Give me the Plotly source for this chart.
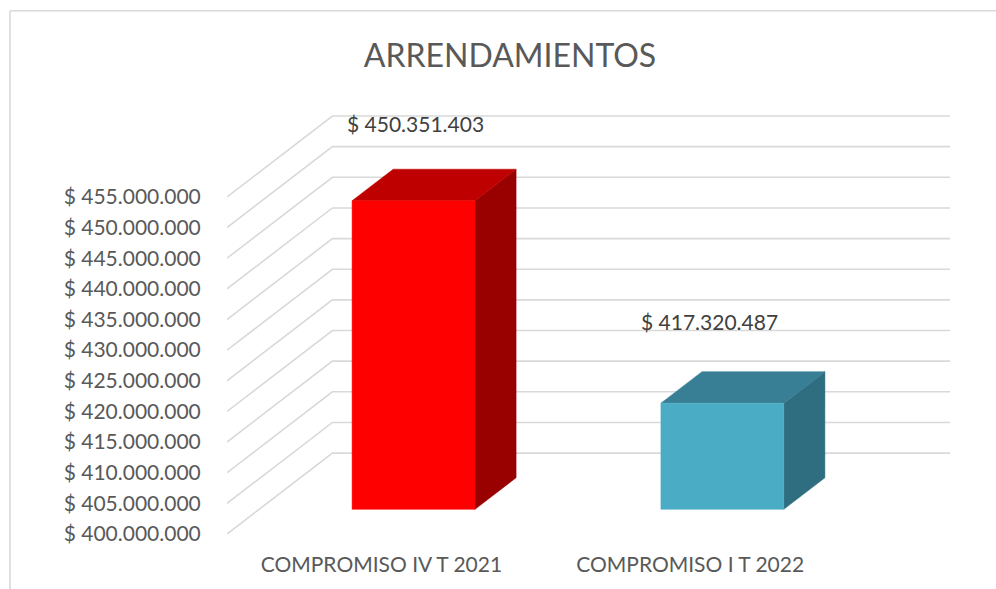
import plotly.graph_objects as go

categories = ["COMPROMISO IV T 2021", "COMPROMISO I T 2022"]
values = [450351403, 417320487]
tick_values = [400000000 + 5000000 * i for i in range(12)]
front_colors = ["#FF0000", "#4BACC6"]
top_colors = ["#BF0000", "#387F95"]
side_colors = ["#990000", "#2F6E80"]
label_shift = [(34, 102), (19, 106)]

BASE = 400000000
DEPTH_X = 0.3413        # oblique projection: x shift (category units) for full floor depth
DEPTH_Y = 13200000      # oblique projection: y shift (value units) for full floor depth
BAR_W = 0.398
D0, D1 = 0.305, 0.695   # bar front and back depth

TEXT = "#595959"
GRID = "#D9D9D9"
FONT = "Lato"


def proj(x, v, d):
    return x + d * DEPTH_X, v + d * DEPTH_Y


def poly(points, color):
    xs, ys = zip(*points)
    return go.Scatter(x=list(xs) + [xs[0]], y=list(ys) + [ys[0]], mode="lines", fill="toself",
                      fillcolor=color, line=dict(color=color, width=0.5),
                      hoverinfo="skip", showlegend=False)


fig = go.Figure()

for v in tick_values:
    a = proj(-0.5, v, 0)
    b = proj(-0.5, v, 1)
    c = proj(1.5, v, 1)
    fig.add_trace(go.Scatter(x=[a[0], b[0], c[0]], y=[a[1], b[1], c[1]], mode="lines",
                             line=dict(color=GRID, width=1.6), hoverinfo="skip",
                             showlegend=False, cliponaxis=False))

for i, v in enumerate(values):
    l, r = i - BAR_W / 2, i + BAR_W / 2
    fig.add_trace(poly([proj(r, BASE, D0), proj(r, BASE, D1), proj(r, v, D1), proj(r, v, D0)], side_colors[i]))
    fig.add_trace(poly([proj(l, v, D0), proj(r, v, D0), proj(r, v, D1), proj(l, v, D1)], top_colors[i]))
    fig.add_trace(poly([proj(l, BASE, D0), proj(r, BASE, D0), proj(r, v, D0), proj(l, v, D0)], front_colors[i]))
    fig.add_annotation(x=i, y=v, text=f"$ {v:,}".replace(",", "."), showarrow=False,
                       xshift=label_shift[i][0], yshift=label_shift[i][1],
                       font=dict(family=FONT, size=21, color="#404040"))

fig.update_layout(
    width=996, height=589, autosize=False,
    margin=dict(l=227, r=46, t=105, b=55),
    paper_bgcolor="white", plot_bgcolor="white",
    title=dict(text="ARRENDAMIENTOS", x=510 / 996, y=1 - 56 / 589, xanchor="center", yanchor="middle",
               font=dict(family=FONT, size=32, color=TEXT)),
    xaxis=dict(range=[-0.5, 1.5 + DEPTH_X], tickmode="array", tickvals=[0, 1], ticktext=categories,
               automargin=False,
               showgrid=False, zeroline=False, showline=False, ticks="outside", ticklen=12,
               tickcolor="rgba(0,0,0,0)", tickfont=dict(family=FONT, size=21, color=TEXT)),
    yaxis=dict(range=[BASE, 470000000], tickmode="array", tickvals=tick_values,
               ticktext=[f"$ {v:,}".replace(",", ".") for v in tick_values],
               automargin=False,
               showgrid=False, zeroline=False, showline=False, ticks="outside", ticklen=21,
               tickcolor="rgba(0,0,0,0)", tickfont=dict(family=FONT, size=21, color=TEXT)),
    shapes=[
        dict(type="line", xref="paper", yref="paper", x0=-217 / 723, x1=769 / 723, y0=(534 - 10.7) / 429, y1=(534 - 10.7) / 429,
             line=dict(color=GRID, width=1.6)),
        dict(type="line", xref="paper", yref="paper", x0=-217 / 723, x1=-217 / 723, y0=(534 - 10.7) / 429, y1=-55 / 429,
             line=dict(color=GRID, width=1.6)),
    ],
)

fig.write_html("out.html", config={"displayModeBar": False}, post_script="document.body.style.margin='0';")
